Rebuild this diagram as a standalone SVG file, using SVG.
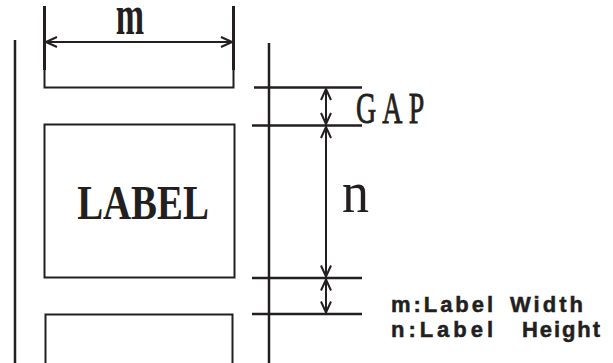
<svg xmlns="http://www.w3.org/2000/svg" width="613" height="363" viewBox="0 0 613 363">
<style>
.ln{stroke:#231f20;stroke-width:2.5;fill:none;stroke-linecap:butt}
.bx{stroke:#231f20;stroke-width:2;fill:none}
.thick{stroke:#231f20;stroke-width:3;fill:none}
.ar{stroke:#231f20;stroke-width:2;fill:none}
.serif{font-family:"Liberation Serif","Times New Roman",serif;fill:#231f20}
.sans{font-family:"Liberation Sans",Arial,sans-serif;font-weight:bold;fill:#231f20;font-size:22px;stroke:#231f20;stroke-width:0.5}
</style>
<defs>
<marker id="ah" markerUnits="userSpaceOnUse" markerWidth="14" markerHeight="14" viewBox="-12 -7 14 14" refX="0" refY="0" orient="auto-start-reverse">
<path d="M-11,-5 L0,0 L-11,5" stroke="#231f20" stroke-width="2" fill="none"/>
</marker>
</defs>
<rect width="613" height="363" fill="#fff"/>
<g id="label-top">
<path class="bx" d="M44.5,6 V87.5 H233.5 V6"/>
</g>
<g id="label-main">
<rect class="bx" x="44.5" y="124.5" width="190" height="153"/>
<text class="serif" font-size="48" font-weight="bold" text-anchor="middle" transform="translate(143,219) scale(0.81,1)">LABEL</text>
</g>
<g id="label-bottom">
<path class="bx" d="M45.5,365 V314.5 H232.5 V365"/>
</g>
<g id="connectors">
<line class="ln" x1="15" y1="40" x2="15" y2="363"/>
<line class="ln" x1="269" y1="43" x2="269" y2="363"/>
<line class="thick" x1="44.5" y1="6" x2="44.5" y2="70"/>
<line class="thick" x1="233.5" y1="6" x2="233.5" y2="70"/>
<line class="ar" x1="46" y1="42" x2="232" y2="42" marker-start="url(#ah)" marker-end="url(#ah)"/>
<line class="ln" x1="254" y1="87.5" x2="362" y2="87.5"/>
<line class="ln" x1="252" y1="125.5" x2="362" y2="125.5"/>
<line class="ln" x1="252" y1="278" x2="362" y2="278"/>
<line class="ln" x1="252" y1="314" x2="362" y2="314"/>
<line class="ar" x1="326" y1="89" x2="326" y2="124" marker-start="url(#ah)" marker-end="url(#ah)"/>
<line class="ar" x1="326" y1="127" x2="326" y2="276.5" marker-start="url(#ah)" marker-end="url(#ah)"/>
<line class="ar" x1="326" y1="279.5" x2="326" y2="312.5" marker-start="url(#ah)" marker-end="url(#ah)"/>
</g>
<g id="dim-labels">
<text class="serif" font-size="40" font-weight="bold" text-anchor="middle" transform="translate(130,34) scale(0.85,1.42)">m</text>
<text class="serif" font-size="45" letter-spacing="10" stroke="#231f20" stroke-width="0.9" transform="translate(356,123) scale(0.62,1)">GAP</text>
<text class="serif" font-size="60" text-anchor="middle" transform="translate(355.5,212) scale(0.9,1)">n</text>
</g>
<g id="legend">
<text class="sans" y="311.5"><tspan x="391" textLength="102" lengthAdjust="spacing">m:Label</tspan><tspan x="510" textLength="73" lengthAdjust="spacing">Width</tspan></text>
<text class="sans" y="337"><tspan x="391" textLength="102" lengthAdjust="spacing">n:Label</tspan><tspan x="522" textLength="78" lengthAdjust="spacing">Height</tspan></text>
</g>
</svg>
